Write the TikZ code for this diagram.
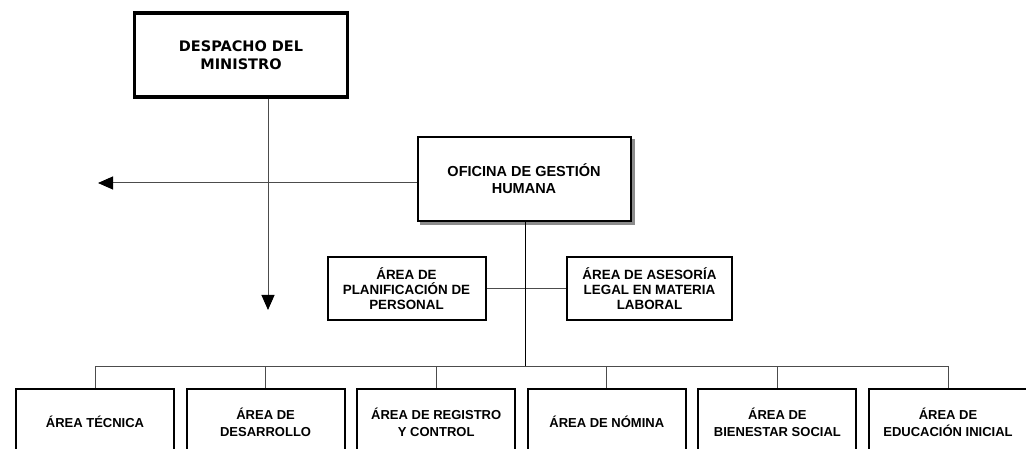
\documentclass[tikz,border=0pt]{standalone}
\usepackage{fontspec}
\setmainfont{Liberation Sans}
\newfontfamily\dejavu{DejaVu Sans}
\usetikzlibrary{arrows.meta,backgrounds}
\tikzstyle{box}=[draw, line width=2pt, fill=white, align=center, minimum width=158pt, minimum height=66pt, inner sep=2pt, font=\bfseries\fontsize{13}{17}\selectfont]
\tikzstyle{link}=[draw=black!70, line width=1pt]

\begin{document}
\begin{tikzpicture}[x=1pt, y=-1pt, >={Triangle[length=15pt,width=13pt,color=black]}]
            \useasboundingbox (0,0) rectangle (1026,449);
            \node [box, line width=3.5pt, minimum width=213pt, minimum height=84pt, font=\dejavu\bfseries\fontsize{14.5}{18}\selectfont] (D) at (241,55) {DESPACHO DEL\\MINISTRO};
            \node [box, minimum width=213pt, minimum height=84pt, font=\bfseries\fontsize{14.5}{17}\selectfont] (O) at (524,179) {OFICINA DE GESTIÓN\\HUMANA};
            \node [box, minimum height=63pt, font=\bfseries\fontsize{13.4}{15}\selectfont] (P) at (406.5,288.5) {ÁREA DE\\PLANIFICACIÓN DE\\PERSONAL};
            \node [box, minimum width=165pt, minimum height=63pt, font=\bfseries\fontsize{13.4}{15}\selectfont] (A) at (649.5,288.5) {ÁREA DE ASESORÍA\\LEGAL EN MATERIA\\LABORAL};
            \node [box] (T) at (95,422) {ÁREA TÉCNICA};
            \node [box, right of=T, node distance=170.6pt] (Ds) {ÁREA DE\\DESARROLLO};
            \node [box, right of=Ds, node distance=170.6pt] (RC) {ÁREA DE REGISTRO\\Y CONTROL};
            \node [box, right of=RC, node distance=170.6pt] (N) {ÁREA DE NÓMINA};
            \node [box, right of=N, node distance=170.6pt] (B) {ÁREA DE\\BIENESTAR SOCIAL};
            \node [box, right of=B, node distance=170.6pt] (EI) {ÁREA DE\\EDUCACIÓN INICIAL};
            % sombra de la oficina
            \begin{scope}[on background layer]
              \fill[black!45] ([shift={(3pt,-3pt)}]O.south west) rectangle ([shift={(3pt,-3pt)}]O.north east);
            \end{scope}
            \coordinate (down) at (268,310);
            \coordinate (left) at (98,183);
            \coordinate (bus) at (525,366);
            \draw[link, ->] (D.south -| down) -- (down);
            \draw[link, ->] (O.west |- left) -- (left);
            \draw[link] (P.east) -- (A.west);
            \draw[link, draw=black] (O.south -| bus) -- (bus);
            \draw[link] (T.north |- bus) -- (EI.north |- bus);
            \foreach \n in {T,Ds,RC,N,B,EI}
              \draw[link] (\n.north |- bus) -- (\n.north);
        \end{tikzpicture}
\end{document}
